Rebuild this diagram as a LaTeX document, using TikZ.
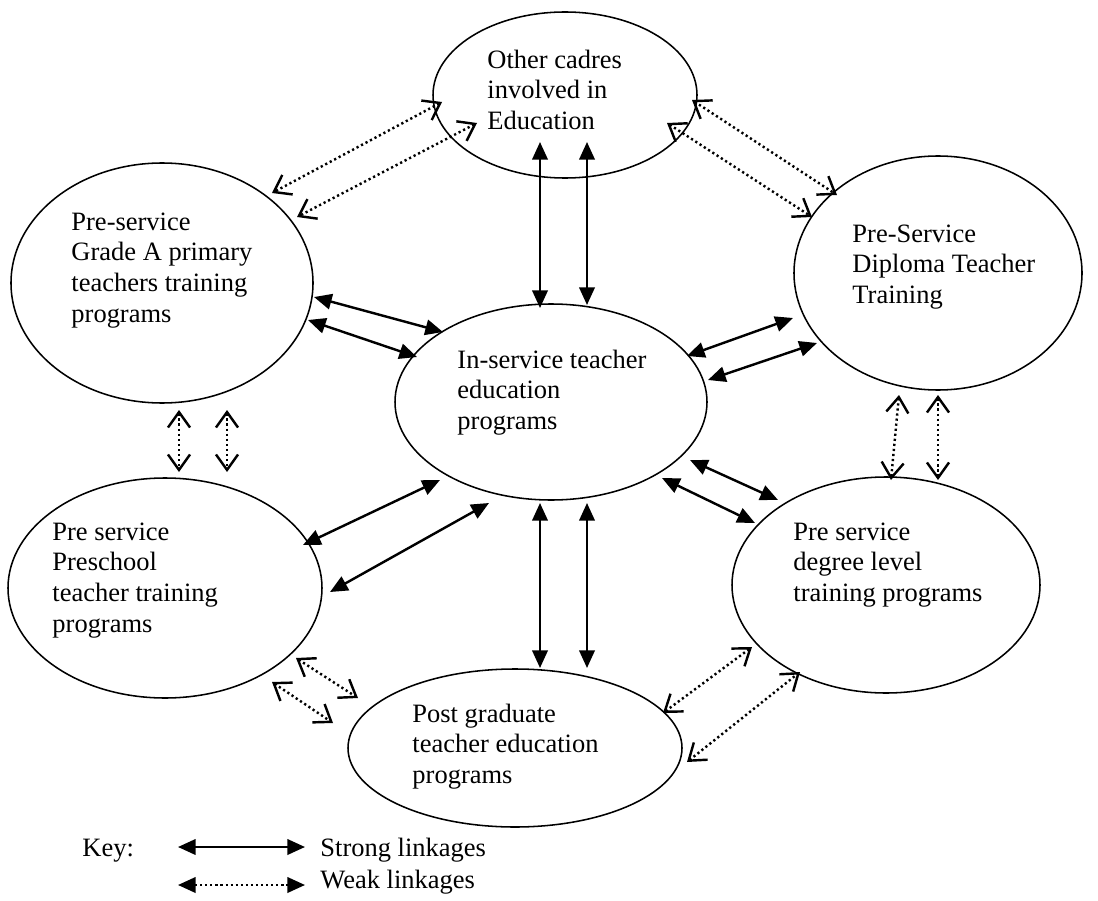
\documentclass[tikz,border=0pt]{standalone}
\usepackage{fontspec}
\setmainfont{Liberation Serif}
\usepackage{tikz}
\usetikzlibrary{shapes.geometric,arrows.meta,calc}

\tikzset{
  oval/.style 2 args={draw, ellipse, line width=0.7pt, inner sep=0pt,
    minimum width={2*#1*0.453pt}, minimum height={2*#2*0.453pt}},
  label/.style={anchor=north west, inner sep=0pt, align=left,
    font=\fontsize{12}{14}\selectfont},
  strong/.style={line width=1.1pt,
    {Triangle[length=8pt,width=7pt]}-{Triangle[length=8pt,width=7pt]}},
  weak/.style={line width=1.1pt, dash pattern=on 1pt off 1.3pt,
    {Straight Barb[length=7pt,width=10pt]}-{Straight Barb[length=7pt,width=10pt]}},
  keyweak/.style={line width=1.1pt, dash pattern=on 1pt off 1.3pt,
    {Triangle[length=8pt,width=7pt]}-{Triangle[length=8pt,width=7pt]}}
}

\begin{document}
\begin{tikzpicture}[x=0.453pt, y=-0.453pt]
\useasboundingbox (0,0) rectangle (1098,901);

% ellipses
\node[oval={132}{83}]  (cad) at (565,95)  {};
\node[oval={151}{120}] (gra) at (162,283) {};
\node[oval={144}{117}] (dip) at (938,273) {};
\node[oval={156}{98}]  (ins) at (551,402) {};
\node[oval={157}{110}] (pre) at (165,588) {};
\node[oval={154}{108}] (deg) at (886,585) {};
\node[oval={167}{79}]  (pgr) at (515,748) {};

% texts
\node[label] (cadtxt) at (487,46)  {\strut Other cadres\\involved in\\Education};
\node[label] (gratxt) at (71,208)  {\strut Pre-service\\Grade A primary\\teachers training\\programs};
\node[label] (diptxt) at (852,220) {\strut Pre-Service\\Diploma Teacher\\Training};
\node[label] (instxt) at (457,346) {\strut In-service teacher\\education\\programs};
\node[label] (pretxt) at (52,518)  {\strut Pre service\\Preschool\\teacher training\\programs};
\node[label] (degtxt) at (793,518) {\strut Pre service\\degree level\\training programs};
\node[label] (pgrtxt) at (412,700) {\strut Post graduate\\teacher education\\programs};

% strong linkages
\draw[strong] ($(gra.center)+(152,14)$) -- ($(ins.center)+(-108,-70)$);
\draw[strong] ($(gra.center)+(146,37)$) -- ($(ins.center)+(-134,-45)$);
\draw[strong] ($(cad.center)+(-25,47)$) -- ($(ins.center)+(-11,-94)$);
\draw[strong] ($(cad.center)+(22,47)$)  -- ($(ins.center)+(36,-97)$);
\draw[strong] ($(ins.center)+(136,-46)$) -- ($(dip.center)+(-145,45)$);
\draw[strong] ($(ins.center)+(157,-22)$) -- ($(dip.center)+(-121,70)$);
\draw[strong] ($(pre.center)+(138,-43)$) -- ($(ins.center)+(-111,78)$);
\draw[strong] ($(pre.center)+(165,4)$)   -- ($(ins.center)+(-62,101)$);
\draw[strong] ($(ins.center)+(139,58)$) -- ($(deg.center)+(-108,-85)$);
\draw[strong] ($(ins.center)+(111,76)$) -- ($(deg.center)+(-131,-62)$);
\draw[strong] ($(ins.center)+(-11,101)$) -- ($(pgr.center)+(25,-80)$);
\draw[strong] ($(ins.center)+(36,101)$)  -- ($(pgr.center)+(72,-80)$);

% weak linkages
\draw[weak] ($(cad.center)+(-123,7)$)  -- ($(gra.center)+(110,-90)$);
\draw[weak] ($(cad.center)+(-88,28)$)  -- ($(gra.center)+(135,-66)$);
\draw[weak] ($(cad.center)+(127,5)$)   -- ($(dip.center)+(-101,-78)$);
\draw[weak] ($(cad.center)+(102,28)$)  -- ($(dip.center)+(-126,-56)$);
\draw[weak] ($(gra.center)+(17,127)$)  -- ($(pre.center)+(14,-116)$);
\draw[weak] ($(gra.center)+(65,127)$)  -- ($(pre.center)+(62,-116)$);
\draw[weak] ($(dip.center)+(-39,122)$) -- ($(deg.center)+(5,-105)$);
\draw[weak] ($(dip.center)+(0,122)$)   -- ($(deg.center)+(52,-105)$);
\draw[weak] ($(pre.center)+(131,70)$)  -- ($(pgr.center)+(-157,-50)$);
\draw[weak] ($(pre.center)+(107,94)$)  -- ($(pgr.center)+(-182,-25)$);
\draw[weak] ($(pgr.center)+(148,-35)$) -- ($(deg.center)+(-134,62)$);
\draw[weak] ($(pgr.center)+(172,14)$)  -- ($(deg.center)+(-86,87)$);

% key
\node[label] (keytxt) at (82,834) {\strut Key:};
\coordinate (ks1) at (178,847);
\coordinate (ks2) at (305,847);
\coordinate (kw1) at (178,885);
\coordinate (kw2) at (305,885);
\draw[strong] (ks1) -- (ks2);
\draw[keyweak] (kw1) -- (kw2);
\node[label] (kstxt) at (320,834) {\strut Strong linkages};
\node[label] (kwtxt) at (320,866) {\strut Weak linkages};

\end{tikzpicture}
\end{document}
